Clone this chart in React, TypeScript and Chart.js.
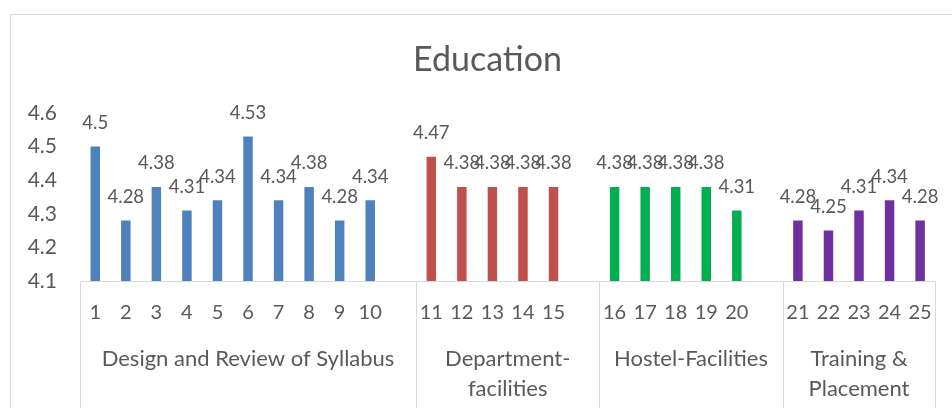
import React, { useEffect, useRef } from "react";
import { Chart, registerables } from "chart.js";

Chart.register(...registerables);

const TITLE = "Education";
const FONT = "Lato";
const TEXT_COLOR = "#595959";
const LINE_COLOR = "#d9d9d9";

const SYLLABUS_NAME = ["Design and Review of Syllabus"];
const SYLLABUS_ITEMS = ["1", "2", "3", "4", "5", "6", "7", "8", "9", "10"];
const SYLLABUS_VALUES = [4.5, 4.28, 4.38, 4.31, 4.34, 4.53, 4.34, 4.38, 4.28, 4.34];

const DEPT_NAME = ["Department-", "facilities"];
const DEPT_ITEMS = ["11", "12", "13", "14", "15"];
const DEPT_VALUES = [4.47, 4.38, 4.38, 4.38, 4.38];

const HOSTEL_NAME = ["Hostel-Facilities"];
const HOSTEL_ITEMS = ["16", "17", "18", "19", "20"];
const HOSTEL_VALUES = [4.38, 4.38, 4.38, 4.38, 4.31];

const PLACEMENT_NAME = ["Training &", "Placement"];
const PLACEMENT_ITEMS = ["21", "22", "23", "24", "25"];
const PLACEMENT_VALUES = [4.28, 4.25, 4.31, 4.34, 4.28];

const COLORS = ["#4F81BD", "#C0504D", "#00B050", "#7030A0"];

const Y_MIN = 4.1;
const Y_MAX = 4.6;
const Y_STEP = 0.1;

const GROUPS = [
  { name: SYLLABUS_NAME, items: SYLLABUS_ITEMS, values: SYLLABUS_VALUES, color: COLORS[0] },
  { name: DEPT_NAME, items: DEPT_ITEMS, values: DEPT_VALUES, color: COLORS[1] },
  { name: HOSTEL_NAME, items: HOSTEL_ITEMS, values: HOSTEL_VALUES, color: COLORS[2] },
  { name: PLACEMENT_NAME, items: PLACEMENT_ITEMS, values: PLACEMENT_VALUES, color: COLORS[3] },
];

function buildData() {
  const labels: string[] = [];
  const spans: { start: number; end: number; name: string[] }[] = [];
  GROUPS.forEach((g, gi) => {
    const start = labels.length;
    g.items.forEach((it) => labels.push(it));
    if (gi < GROUPS.length - 1) labels.push("");
    spans.push({ start, end: labels.length - 1, name: g.name });
  });
  const datasets = GROUPS.map((g, gi) => {
    const data: (number | null)[] = labels.map(() => null);
    g.items.forEach((_, i) => {
      data[spans[gi].start + i] = g.values[i];
    });
    return {
      label: g.name.join(" "),
      data,
      backgroundColor: g.color,
      borderWidth: 0,
      grouped: false,
      categoryPercentage: 1,
      barPercentage: 0.31,
    };
  });
  return { labels, spans, datasets };
}

export default function App() {
  const ref = useRef<HTMLCanvasElement | null>(null);

  useEffect(() => {
    if (!ref.current) return;
    const { labels, spans, datasets } = buildData();

    const decor = {
      id: "decor",
      beforeDraw(chart: any) {
        const ctx = chart.ctx;
        ctx.save();
        ctx.strokeStyle = LINE_COLOR;
        ctx.lineWidth = 1;
        ctx.beginPath();
        ctx.moveTo(10.5, chart.height);
        ctx.lineTo(10.5, 14.5);
        ctx.lineTo(chart.width, 14.5);
        ctx.stroke();
        // chart title, centred on the whole (wider) Excel chart frame
        ctx.fillStyle = TEXT_COLOR;
        ctx.font = `34px ${FONT}`;
        ctx.textAlign = "center";
        ctx.textBaseline = "alphabetic";
        ctx.fillText(TITLE, 487.5, 70.5);
        ctx.restore();
      },
      afterDatasetsDraw(chart: any) {
        const ctx = chart.ctx;
        ctx.save();
        ctx.fillStyle = TEXT_COLOR;
        ctx.font = `18.5px ${FONT}`;
        ctx.textAlign = "center";
        ctx.textBaseline = "alphabetic";
        chart.data.datasets.forEach((ds: any, di: number) => {
          const meta = chart.getDatasetMeta(di);
          meta.data.forEach((el: any, j: number) => {
            const v = ds.data[j];
            if (v === null || v === undefined) return;
            ctx.fillText(String(v), el.x, el.y - 17.5);
          });
        });
        ctx.restore();
      },
      afterDraw(chart: any) {
        const ctx = chart.ctx;
        const xs = chart.scales.x;
        ctx.save();
        ctx.strokeStyle = LINE_COLOR;
        ctx.lineWidth = 1;
        ctx.beginPath();
        const bounds = [-0.5, ...spans.map((s) => s.end + 0.5)];
        bounds.forEach((b) => {
          const px = Math.round(xs.getPixelForValue(b)) + 0.5;
          ctx.moveTo(px, xs.top);
          ctx.lineTo(px, chart.height);
        });
        ctx.stroke();
        ctx.fillStyle = TEXT_COLOR;
        ctx.font = `22px ${FONT}`;
        ctx.textAlign = "center";
        ctx.textBaseline = "alphabetic";
        spans.forEach((s) => {
          const cx = xs.getPixelForValue((s.start + s.end) / 2);
          s.name.forEach((line, k) => {
            ctx.fillText(line, cx, xs.top + 85 + k * 30);
          });
        });
        ctx.restore();
      },
    };

    const chart = new Chart(ref.current, {
      type: "bar",
      data: { labels, datasets: datasets as any },
      options: {
        animation: false,
        responsive: false,
        layout: { padding: { left: 0, right: 16, top: 113, bottom: 0 } },
        plugins: {
          legend: { display: false },
          tooltip: { enabled: false },
          title: { display: false },
        },
        scales: {
          x: {
            type: "category",
            grid: { display: false, drawTicks: false },
            border: { display: true, color: LINE_COLOR, width: 1 },
            ticks: {
              color: TEXT_COLOR,
              font: { family: FONT, size: 20 },
              padding: 20,
              autoSkip: false,
              maxRotation: 0,
              minRotation: 0,
            },
            afterFit: (scale: any) => {
              scale.height = 127;
            },
          },
          y: {
            min: Y_MIN,
            max: Y_MAX,
            grid: { display: false, drawTicks: false },
            border: { display: false },
            ticks: {
              stepSize: Y_STEP,
              color: TEXT_COLOR,
              font: { family: FONT, size: 21 },
              padding: 23,
              callback: (v: any) => Number(v).toFixed(1),
            },
            afterFit: (scale: any) => {
              scale.width = 80;
            },
          },
        },
      },
      plugins: [decor],
    });
    return () => chart.destroy();
  }, []);

  return (
    <div style={{ position: "fixed", left: 0, top: 0, width: 952, height: 408, background: "#fff" }}>
      <canvas ref={ref} width={952} height={408} style={{ display: "block" }} />
    </div>
  );
}
